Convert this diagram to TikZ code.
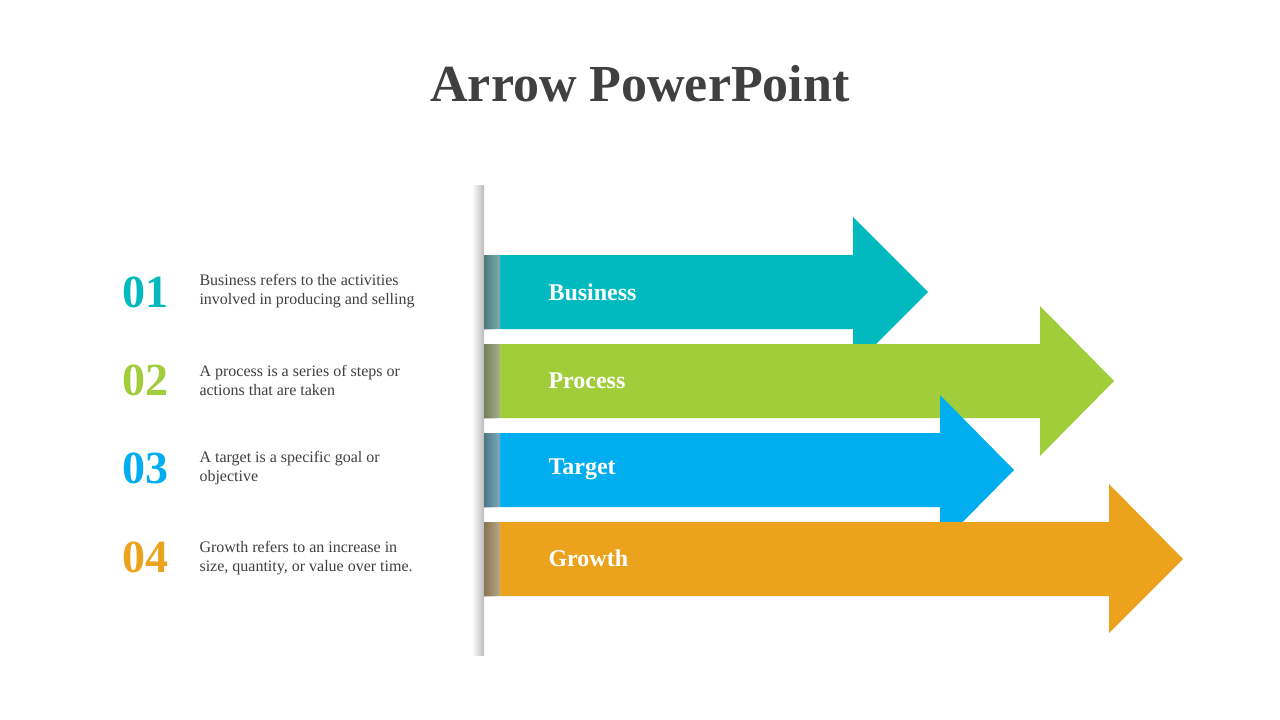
\documentclass[tikz,border=0pt]{standalone}
\usepackage{fontspec}
\setmainfont{Liberation Serif}
\definecolor{cA}{HTML}{00BAC0}
\definecolor{cB}{HTML}{A2CD3A}
\definecolor{cC}{HTML}{00AEEF}
\definecolor{cD}{HTML}{EBA31E}
\definecolor{tx}{HTML}{404040}
\begin{document}
\begin{tikzpicture}[x=1pt,y=-1pt,
  num/.style={font=\fontsize{46}{46}\selectfont\bfseries,anchor=center},
  desc/.style={font=\fontsize{16}{19}\selectfont,text=tx,anchor=west,align=left},
  lab/.style={font=\fontsize{24}{24}\selectfont\bfseries,text=white,anchor=west}]
\useasboundingbox (0,0) rectangle (1280,720);
\fill[white] (0,0) rectangle (1280,720);
\node[font=\fontsize{52}{52}\selectfont\bfseries,text=tx] (title) at (640,84) {Arrow PowerPoint};
\shade[left color=white,right color=black!45,opacity=0.6] (472,185) rectangle (484,655);
% arrows
\fill[cA] (484,255) -- (853,255) -- (853,217) -- (928,292) -- (853,367) -- (853,329) -- (484,329) -- cycle;
\fill[cB] (484,344) -- (1040,344) -- (1040,306) -- (1114,381) -- (1040,456) -- (1040,418) -- (484,418) -- cycle;
\fill[cC] (484,433) -- (940,433) -- (940,395) -- (1014,470) -- (940,545) -- (940,507) -- (484,507) -- cycle;
\fill[cD] (484,522) -- (1109,522) -- (1109,484) -- (1183,559) -- (1109,633) -- (1109,596) -- (484,596) -- cycle;
\fill[left color=black!40,right color=black!0,opacity=0.5] (484,255) rectangle (500,329);
\fill[left color=black!40,right color=black!0,opacity=0.5] (484,344) rectangle (500,418);
\fill[left color=black!40,right color=black!0,opacity=0.5] (484,433) rectangle (500,507);
\fill[left color=black!40,right color=black!0,opacity=0.5] (484,522) rectangle (500,596);
\node[lab] (l1) at (545,292) {Business};
\node[lab] (l2) at (545,381) {Process};
\node[lab] (l3) at (545,469) {Target};
\node[lab] (l4) at (545,558) {Growth};
\node[num,text=cA] (n1) at (145,292) {01};
\node[num,text=cB] (n2) at (145,380) {02};
\node[num,text=cC] (n3) at (145,468) {03};
\node[num,text=cD] (n4) at (145,557) {04};
\node[desc] (d1) at (196,291) {Business refers to the activities\\involved in producing and selling};
\node[desc] (d2) at (196,380) {A process is a series of steps or\\actions that are taken};
\node[desc] (d3) at (196,468) {A target is a specific goal or\\objective};
\node[desc] (d4) at (196,558) {Growth refers to an increase in\\size, quantity, or value over time.};
\end{tikzpicture}
\end{document}
